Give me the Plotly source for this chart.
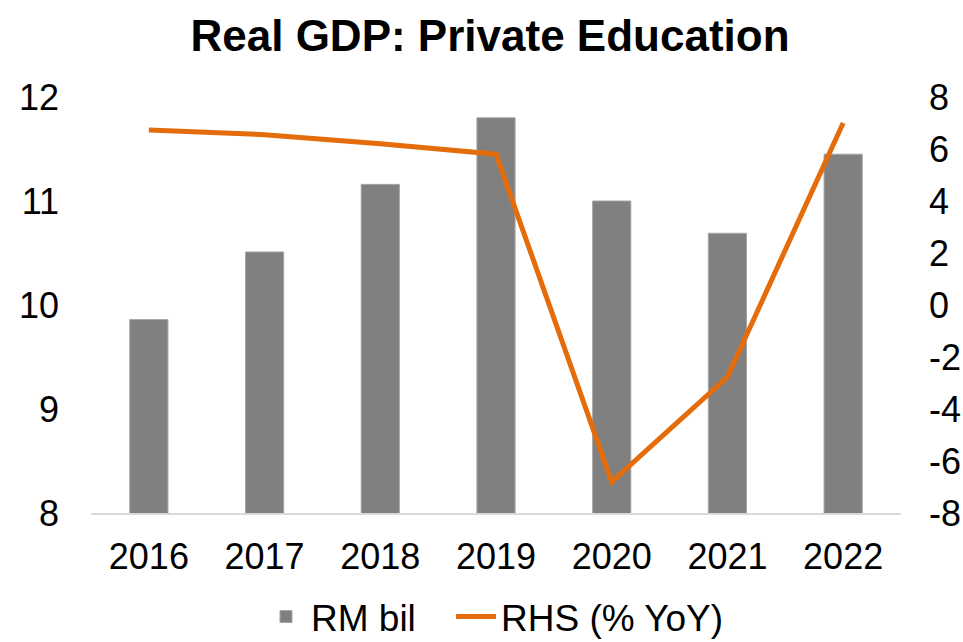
import plotly.graph_objects as go

# Annual data
years = ["2016", "2017", "2018", "2019", "2020", "2021", "2022"]
rm_bil = [9.86, 10.51, 11.16, 11.80, 11.00, 10.69, 11.45]        # RM bil (left axis)
yoy_pct = [6.73, 6.55, 6.20, 5.80, -6.80, -2.77, 7.00]           # % YoY (right axis)

left_ticks = [8, 9, 10, 11, 12]
right_ticks = [-8, -6, -4, -2, 0, 2, 4, 6, 8]
right_labels = [str(v) for v in right_ticks]   # plain hyphen for negatives

FONT = "Liberation Sans, Arial, sans-serif"
W, H = 963, 642
M_L, M_R, M_T, M_B = 91, 62, 97, 129

fig = go.Figure()

fig.add_trace(go.Bar(
    x=years, y=rm_bil, name="RM bil",
    marker=dict(color="#808080", line=dict(color="#A6A6A6", width=1)),
    yaxis="y", legend="legend",
))

fig.add_trace(go.Scatter(
    x=years, y=yoy_pct, name="RHS (% YoY)",
    mode="lines",
    line=dict(color="#E46C0A", width=5),
    yaxis="y2", legend="legend2",
))

legend_style = dict(
    orientation="h",
    xanchor="left", xref="container",
    y=1 - 586 / H, yanchor="top", yref="container",
    font=dict(family=FONT, size=37, color="black"),
    bgcolor="rgba(0,0,0,0)",
    itemwidth=40,
)

fig.update_layout(
    width=W, height=H,
    margin=dict(l=M_L, r=M_R, t=M_T, b=M_B, pad=0, autoexpand=False),
    paper_bgcolor="white", plot_bgcolor="white",
    font=dict(family=FONT, color="black", size=36),
    title=dict(
        text="<b>Real GDP: Private Education</b>",
        font=dict(family=FONT, size=44, color="black"),
        x=490 / W, xanchor="center", xref="container",
        y=1 - 36 / H, yanchor="middle", yref="container",
    ),
    bargap=0.67,
    showlegend=True,
    legend=dict(legend_style, x=261 / W),
    legend2=dict(legend_style, x=451 / W),
    xaxis=dict(
        type="category", automargin=False,
        showgrid=False, zeroline=False,
        showline=True, linecolor="#D9D9D9", linewidth=2,
        ticks="", ticklabelstandoff=11,
        tickfont=dict(family=FONT, size=36, color="black"),
    ),
    yaxis=dict(
        range=[8, 12], tickvals=left_ticks, automargin=False,
        showgrid=False, zeroline=False, showline=False,
        ticks="", ticklabelstandoff=31,
        tickfont=dict(family=FONT, size=36, color="black"),
    ),
    yaxis2=dict(
        range=[-8, 8], tickvals=right_ticks, ticktext=right_labels,
        overlaying="y", side="right", automargin=False,
        showgrid=False, zeroline=False, showline=False,
        ticks="", ticklabelstandoff=27,
        tickfont=dict(family=FONT, size=36, color="black"),
    ),
)

fig.write_html("out.html")
